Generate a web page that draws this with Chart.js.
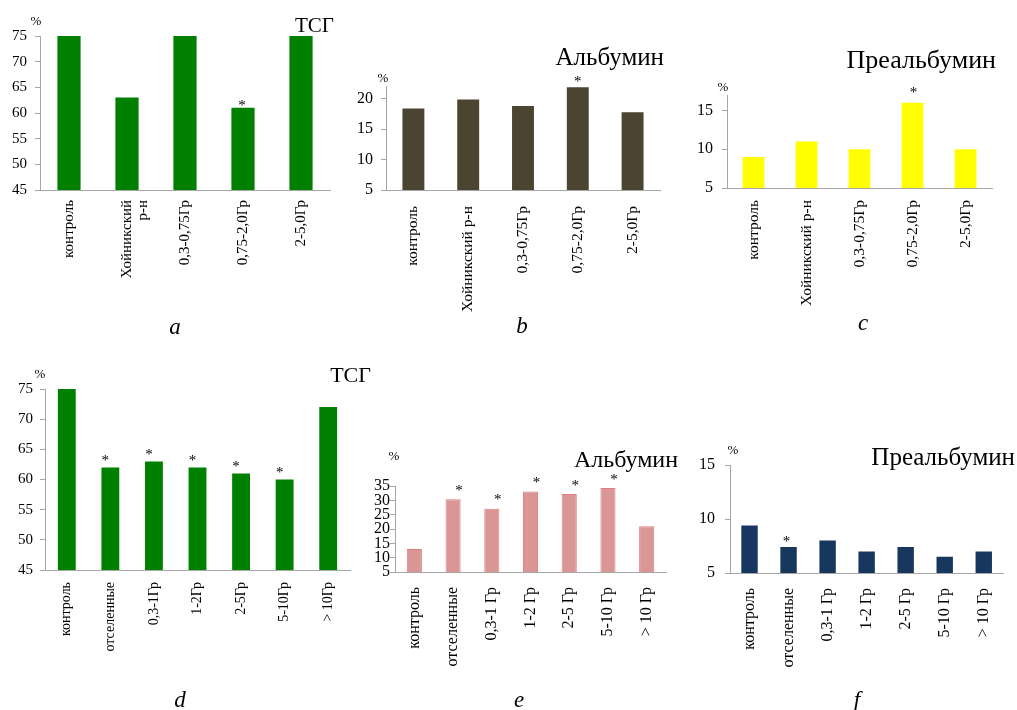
<!DOCTYPE html>
<html>
<head>
<meta charset="utf-8">
<script src="https://cdn.jsdelivr.net/npm/chart.js@4.4.1/dist/chart.umd.min.js"></script>
<style>
  html, body { margin: 0; padding: 0; background: #fff; }
  #wrap { position: relative; width: 1017px; height: 710px; overflow: hidden; background: #fff; }
  canvas { position: absolute; }
</style>
</head>
<body>
<div id="wrap">
  <canvas id="pa"></canvas>
  <canvas id="pb"></canvas>
  <canvas id="pc"></canvas>
  <canvas id="pd"></canvas>
  <canvas id="pe"></canvas>
  <canvas id="pf"></canvas>
</div>
<script>
// ---- categories ----
const regionsA = ['контроль', ['Хойникский', 'р-н'], '0,3-0,75Гр', '0,75-2,0Гр', '2-5,0Гр'];
const regionsB = ['контроль', 'Хойникский р-н', '0,3-0,75Гр', '0,75-2,0Гр', '2-5,0Гр'];
const dosesD = ['контроль', 'отселенные', '0,3-1Гр', '1-2Гр', '2-5Гр', '5-10Гр', '> 10Гр'];
const dosesEF = ['контроль', 'отселенные', '0,3-1 Гр', '1-2 Гр', '2-5 Гр', '5-10 Гр', '> 10 Гр'];

// ---- series values, % ----
const tsgRegions = [75, 63, 75, 61, 75];
const albRegions = [18.4, 19.9, 18.8, 21.9, 17.8];
const prealbRegions = [9, 11, 10, 16, 10];
const tsgDoses = [75, 62, 63, 62, 61, 60, 72];
const albDoses = [13, 30.4, 27.1, 33.1, 32.2, 34.3, 21];
const prealbDoses = [9.4, 7.4, 8, 7, 7.4, 6.5, 7];

// ---- significance marks (*) ----
const sigTsgRegions = [false, false, false, true, false];
const sigAlbRegions = [false, false, false, true, false];
const sigPrealbRegions = [false, false, false, true, false];
const sigTsgDoses = [false, true, true, true, true, true, false];
const sigAlbDoses = [false, true, true, true, true, true, false];
const sigPrealbDoses = [false, true, false, false, false, false, false];

// ---- axis tick labels ----
const ticksTsg = [45, 50, 55, 60, 65, 70, 75];
const ticksAlbRegions = [5, 10, 15, 20];
const ticksPrealbRegions = [5, 10, 15];
const ticksAlbDoses = [5, 10, 15, 20, 25, 30, 35];
const ticksPrealbDoses = [5, 10, 15];

const SERIF = '"Liberation Serif", "Times New Roman", serif';
const AXIS = '#a6a6a6';
const INK = '#000';

// Draws the headings, the "%" unit, the panel letter and the * marks
const annotate = {
  id: 'annotate',
  afterDatasetsDraw(chart, args, o) {
    const ctx = chart.ctx;
    ctx.save();
    ctx.fillStyle = INK;
    const meta = chart.getDatasetMeta(0);
    ctx.font = o.starSize + 'px ' + SERIF;
    ctx.textAlign = 'center';
    ctx.textBaseline = 'alphabetic';
    o.marks.forEach((m, i) => {
      if (!m) return;
      const bar = meta.data[i];
      ctx.fillText('*', bar.x + o.starDx, bar.y - o.starGap + o.starSize * 0.5);
    });
    o.texts.forEach(t => {
      ctx.font = t.font;
      ctx.textAlign = t.align || 'left';
      ctx.textBaseline = t.baseline || 'alphabetic';
      ctx.fillText(t.text, t.x - o.ox, t.y - o.oy);
    });
    ctx.restore();
  }
};

function panel(p) {
  const cv = document.getElementById(p.id);
  cv.width = p.box.w; cv.height = p.box.h;
  cv.style.left = p.box.x + 'px';
  cv.style.top = p.box.y + 'px';
  const yW = p.plot.l - p.box.x;
  const xH = p.box.y + p.box.h - p.plot.b;
  return new Chart(cv, {
    type: 'bar',
    data: {
      labels: p.labels,
      datasets: [{
        data: p.values,
        backgroundColor: p.color,
        borderColor: p.border || p.color,
        borderWidth: p.borderWidth || 0,
        barPercentage: p.barPct,
        categoryPercentage: 1
      }]
    },
    options: {
      responsive: false,
      animation: false,
      devicePixelRatio: 1,
      layout: { padding: { left: 0, bottom: 0, top: p.plot.t - p.box.y, right: p.box.x + p.box.w - p.plot.r } },
      plugins: {
        legend: { display: false },
        tooltip: { enabled: false },
        annotate: {
          ox: p.box.x, oy: p.box.y,
          marks: p.marks, starDx: p.starDx, starGap: p.starGap, starSize: 15,
          texts: p.texts
        }
      },
      scales: {
        x: {
          grid: { display: false, drawTicks: false },
          border: { color: AXIS, width: 1 },
          ticks: {
            autoSkip: false, minRotation: 90, maxRotation: 90,
            padding: p.xPad, color: INK,
            font: { family: SERIF, size: p.xFont, lineHeight: 1.1 }
          },
          afterFit(s) { s.height = xH; }
        },
        y: {
          min: p.min, max: p.max,
          grid: { display: true, drawOnChartArea: false, drawTicks: true, tickLength: 5, color: AXIS },
          border: { color: AXIS, width: 1 },
          ticks: { autoSkip: false, padding: p.yPad, color: INK, font: { family: SERIF, size: p.yFont } },
          afterBuildTicks(s) { s.ticks = p.yTicks.map(v => ({ value: v })); },
          afterFit(s) { s.width = yW; }
        }
      }
    },
    plugins: [annotate]
  });
}

const headFont = size => size + 'px ' + SERIF;
const letterFont = 'italic 23px ' + SERIF;
const pctFont = '13px ' + SERIF;

panel({
  id: 'pa', box: { x: 0, y: 0, w: 345, h: 345 }, plot: { l: 40, t: 36, r: 330, b: 190 },
  labels: regionsA, values: tsgRegions, marks: sigTsgRegions, color: '#008000', barPct: 0.4,
  min: 45, max: 75, yTicks: ticksTsg, xFont: 15, yFont: 15, xPad: 10, yPad: 8, starDx: -1, starGap: 5,
  texts: [
    { text: 'ТСГ', x: 334, y: 32, font: headFont(21), align: 'right' },
    { text: '%', x: 36, y: 22, font: pctFont, align: 'center', baseline: 'middle' },
    { text: 'a', x: 175, y: 334, font: letterFont, align: 'center' }
  ]
});

panel({
  id: 'pb', box: { x: 340, y: 0, w: 340, h: 345 }, plot: { l: 386, t: 86, r: 660, b: 190 },
  labels: regionsB, values: albRegions, marks: sigAlbRegions, color: '#4a4430', barPct: 0.4,
  min: 5, max: 22.1, yTicks: ticksAlbRegions, xFont: 15.5, yFont: 16, xPad: 16, yPad: 8, starDx: 0, starGap: 9,
  texts: [
    { text: 'Альбумин', x: 664, y: 65, font: headFont(25), align: 'right' },
    { text: '%', x: 383, y: 79, font: pctFont, align: 'center', baseline: 'middle' },
    { text: 'b', x: 522, y: 333, font: letterFont, align: 'center' }
  ]
});

panel({
  id: 'pc', box: { x: 680, y: 0, w: 337, h: 345 }, plot: { l: 727, t: 95, r: 992, b: 188 },
  labels: regionsB, values: prealbRegions, marks: sigPrealbRegions, color: '#ffff00', barPct: 0.41,
  min: 5, max: 17, yTicks: ticksPrealbRegions, xFont: 15.5, yFont: 16, xPad: 12, yPad: 9, starDx: 1, starGap: 13,
  texts: [
    { text: 'Преальбумин', x: 996, y: 68, font: headFont(26), align: 'right' },
    { text: '%', x: 723, y: 88, font: pctFont, align: 'center', baseline: 'middle' },
    { text: 'c', x: 863, y: 330, font: letterFont, align: 'center' }
  ]
});

panel({
  id: 'pd', box: { x: 0, y: 345, w: 380, h: 365 }, plot: { l: 45, t: 389, r: 350, b: 570 },
  labels: dosesD, values: tsgDoses, marks: sigTsgDoses, color: '#008000', barPct: 0.41,
  min: 45, max: 75, yTicks: ticksTsg, xFont: 14, yFont: 15, xPad: 12, yPad: 7, starDx: -5, starGap: 10,
  texts: [
    { text: 'ТСГ', x: 371, y: 382, font: headFont(22), align: 'right' },
    { text: '%', x: 40, y: 375, font: pctFont, align: 'center', baseline: 'middle' },
    { text: 'd', x: 180, y: 707, font: letterFont, align: 'center' }
  ]
});

panel({
  id: 'pe', box: { x: 340, y: 345, w: 340, h: 365 }, plot: { l: 395, t: 486, r: 670, b: 572 },
  labels: dosesEF, values: albDoses, marks: sigAlbDoses, color: '#d99694', border: '#e07f7c', borderWidth: 1, barPct: 0.39,
  min: 5, max: 35, yTicks: ticksAlbDoses, xFont: 16, yFont: 16, xPad: 15, yPad: 0, starDx: 6, starGap: 12,
  texts: [
    { text: 'Альбумин', x: 678, y: 467, font: headFont(24), align: 'right' },
    { text: '%', x: 394, y: 457, font: pctFont, align: 'center', baseline: 'middle' },
    { text: 'e', x: 519, y: 707, font: letterFont, align: 'center' }
  ]
});

panel({
  id: 'pf', box: { x: 680, y: 345, w: 337, h: 365 }, plot: { l: 730, t: 465, r: 1008, b: 573 },
  labels: dosesEF, values: prealbDoses, marks: sigPrealbDoses, color: '#17375e', barPct: 0.42,
  min: 5, max: 15, yTicks: ticksPrealbDoses, xFont: 16, yFont: 16, xPad: 15, yPad: 10, starDx: -2, starGap: 9,
  texts: [
    { text: 'Преальбумин', x: 1015, y: 465, font: headFont(25), align: 'right' },
    { text: '%', x: 733, y: 451, font: pctFont, align: 'center', baseline: 'middle' },
    { text: 'f', x: 857, y: 707, font: letterFont, align: 'center' }
  ]
});
</script>
</body>
</html>
